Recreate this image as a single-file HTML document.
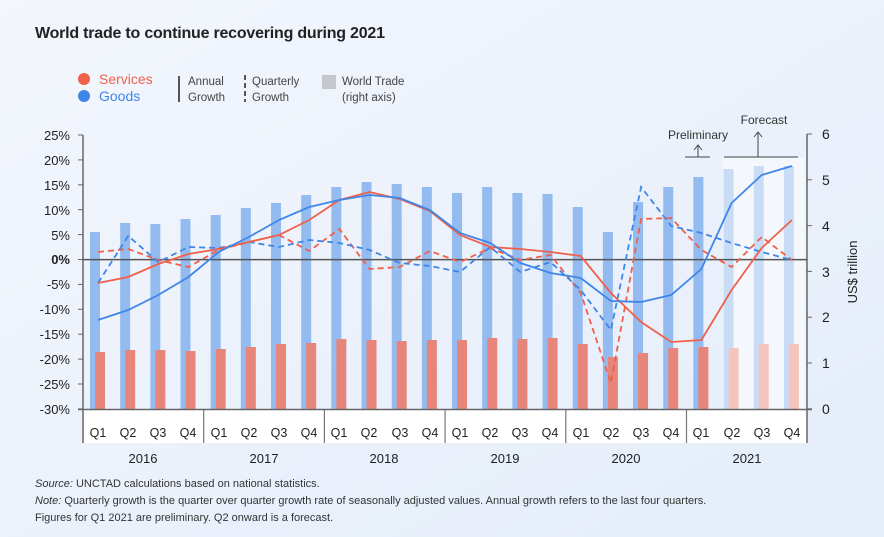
<!DOCTYPE html>
<html><head><meta charset="utf-8"><style>
body{margin:0;width:884px;height:537px;overflow:hidden;font-family:"Liberation Sans",sans-serif;}
svg{display:block}
text{font-family:"Liberation Sans",sans-serif;}
</style></head><body>
<svg id="s" width="884" height="537" xmlns="http://www.w3.org/2000/svg">
<defs><linearGradient id="bg" x1="0" y1="0" x2="1" y2="1"><stop offset="0" stop-color="#f3f6fc"/><stop offset="1" stop-color="#e4edfa"/></linearGradient></defs>
<rect width="884" height="537" fill="url(#bg)"/>
<text x="35" y="38" font-size="16" font-weight="bold" fill="#222" transform="scale(1,1)" textLength="350">World trade to continue recovering during 2021</text>
<circle cx="84" cy="79" r="6" fill="#f0604a"/><circle cx="84" cy="96" r="6" fill="#3f86e8"/>
<text x="99" y="84" font-size="14" fill="#f0604a">Services</text>
<text x="99" y="101" font-size="14" fill="#3f86e8">Goods</text>
<line x1="179" y1="76" x2="179" y2="102" stroke="#555" stroke-width="2"/>
<text x="188" y="85" font-size="11.5" fill="#444">Annual</text><text x="188" y="101" font-size="11.5" fill="#444">Growth</text>
<line x1="245" y1="75" x2="245" y2="102" stroke="#555" stroke-width="2" stroke-dasharray="5,3"/>
<text x="252" y="85" font-size="11.5" fill="#444">Quarterly</text><text x="252" y="101" font-size="11.5" fill="#444">Growth</text>
<rect x="322" y="75" width="14" height="14" fill="#c4c7cc"/>
<text x="342" y="85" font-size="11.5" fill="#444">World Trade</text><text x="342" y="101" font-size="11.5" fill="#444">(right axis)</text>
<rect x="723" y="158" width="82" height="251" fill="#f4f8fd"/>
<rect x="83" y="410" width="724" height="33" fill="#fff"/>
<g id="g"></g>
<g font-size="13" fill="#222" text-anchor="end">
<text x="70" y="140">25%</text><text x="70" y="165">20%</text><text x="70" y="190">15%</text><text x="70" y="215">10%</text><text x="70" y="240">5%</text><text x="70" y="264" font-weight="bold">0%</text><text x="70" y="289">-5%</text><text x="70" y="314">-10%</text><text x="70" y="339">-15%</text><text x="70" y="364">-20%</text><text x="70" y="389">-25%</text><text x="70" y="414">-30%</text>
</g>
<g font-size="14" fill="#222">
<text x="822" y="139">6</text><text x="822" y="185">5</text><text x="822" y="231">4</text><text x="822" y="277">3</text><text x="822" y="322">2</text><text x="822" y="368">1</text><text x="822" y="414">0</text>
</g>
<text transform="translate(857,272) rotate(-90)" font-size="13" fill="#222" text-anchor="middle">US$ trillion</text>
<text x="698" y="139" font-size="12" fill="#333" text-anchor="middle">Preliminary</text>
<text x="764" y="124" font-size="12" fill="#333" text-anchor="middle">Forecast</text>
<path d="M685 157H710M698 157V146M694 150L698 145L702 150" stroke="#444" fill="none"/>
<path d="M724 157H798M758 157V133M754 137L758 132L762 137" stroke="#444" fill="none"/>
<g font-size="12.5" fill="#222" text-anchor="middle" id="ql">
<text x="98" y="437">Q1</text><text x="128" y="437">Q2</text><text x="158" y="437">Q3</text><text x="188" y="437">Q4</text>
<text x="219" y="437">Q1</text><text x="249" y="437">Q2</text><text x="279" y="437">Q3</text><text x="309" y="437">Q4</text>
<text x="339" y="437">Q1</text><text x="369" y="437">Q2</text><text x="400" y="437">Q3</text><text x="430" y="437">Q4</text>
<text x="460" y="437">Q1</text><text x="490" y="437">Q2</text><text x="520" y="437">Q3</text><text x="550" y="437">Q4</text>
<text x="581" y="437">Q1</text><text x="611" y="437">Q2</text><text x="641" y="437">Q3</text><text x="671" y="437">Q4</text>
<text x="701" y="437">Q1</text><text x="732" y="437">Q2</text><text x="762" y="437">Q3</text><text x="792" y="437">Q4</text>
</g>
<g font-size="13" fill="#222" text-anchor="middle">
<text x="143" y="463">2016</text><text x="264" y="463">2017</text><text x="384" y="463">2018</text><text x="505" y="463">2019</text><text x="626" y="463">2020</text><text x="747" y="463">2021</text>
</g>
<g font-size="11" fill="#333">
<text x="35" y="487"><tspan font-style="italic">Source:</tspan> UNCTAD calculations based on national statistics.</text>
<text x="35" y="504"><tspan font-style="italic">Note:</tspan> Quarterly growth is the quarter over quarter growth rate of seasonally adjusted values. Annual growth refers to the last four quarters.</text>
<text x="35" y="521">Figures for Q1 2021 are preliminary. Q2 onward is a forecast.</text>
</g>
</svg>
<script>
var g=document.getElementById('g'),NS="http://www.w3.org/2000/svg",h='';
function X(i){return 98+30.17*i;}
var gt=[232,223,224,219,215,208,203,195,187,182,184,187,193,187,193,194,207,232,202,187,177,169,166,166];
var st=[352,350,350,351,349,347,344,343,339,340,341,340,340,338,339,338,344,357,353,348,347,348,344,344];
for(var i=0;i<24;i++){var x=X(i),f=i>=21;
h+='<rect x="'+(x-8)+'" y="'+gt[i]+'" width="10" height="'+(409-gt[i])+'" fill="'+(f?'#c9dcf6':'#93bbf0')+'"/>';
h+='<rect x="'+(x-3)+'" y="'+st[i]+'" width="10" height="'+(409-st[i])+'" fill="'+(f?'#f5c5bd':'#e8857a')+'"/>';}
h+='<line x1="83" y1="135" x2="83" y2="443" stroke="#666" stroke-width="1.5"/><line x1="807" y1="134" x2="807" y2="443" stroke="#666" stroke-width="1.5"/>';
for(var k=0;k<12;k++){var y=135+k*24.9;h+='<line x1="78" y1="'+y+'" x2="83" y2="'+y+'" stroke="#666"/>';}
for(var k=0;k<7;k++){var y=134+k*45.8;h+='<line x1="807" y1="'+y+'" x2="812" y2="'+y+'" stroke="#666"/>';}
h+='<line x1="78" y1="409.5" x2="812" y2="409.5" stroke="#666" stroke-width="1.5"/>';
for(var k=1;k<6;k++){var x=83+k*120.7;h+='<line x1="'+x+'" y1="410" x2="'+x+'" y2="443" stroke="#777" stroke-width="1.2"/>';}
h+='<line x1="83" y1="259.6" x2="807" y2="259.6" stroke="#555" stroke-width="1.5"/>';
function L(a,c,d){var p=a.map(function(v,i){return X(i).toFixed(1)+','+v}).join(' ');
h+='<polyline points="'+p+'" fill="none" stroke="'+c+'" stroke-width="1.8"'+(d?' stroke-dasharray="6,4"':'')+'/>';}
L([252,249,260,267,250,242,235,251,229,269,267,251,262,248,260,255,293,383,219,218,250,267,237,260],'#f0604a',1);
L([283,236,262,247,248,242,247,240,243,250,263,266,272,247,272,262,290,330,187,226,233,243,252,260],'#3f86e8',1);
L([283,277,264,254,249,242,235,220,200,192,199,211,235,247,249,252,256,293,322,342,340,290,248,220],'#f0604a',0);
L([320,310,295,277,252,237,220,207,200,195,198,210,233,243,263,273,278,301,302,295,269,203,175,166],'#3f86e8',0);
g.innerHTML=h;
</script>
</body></html>
